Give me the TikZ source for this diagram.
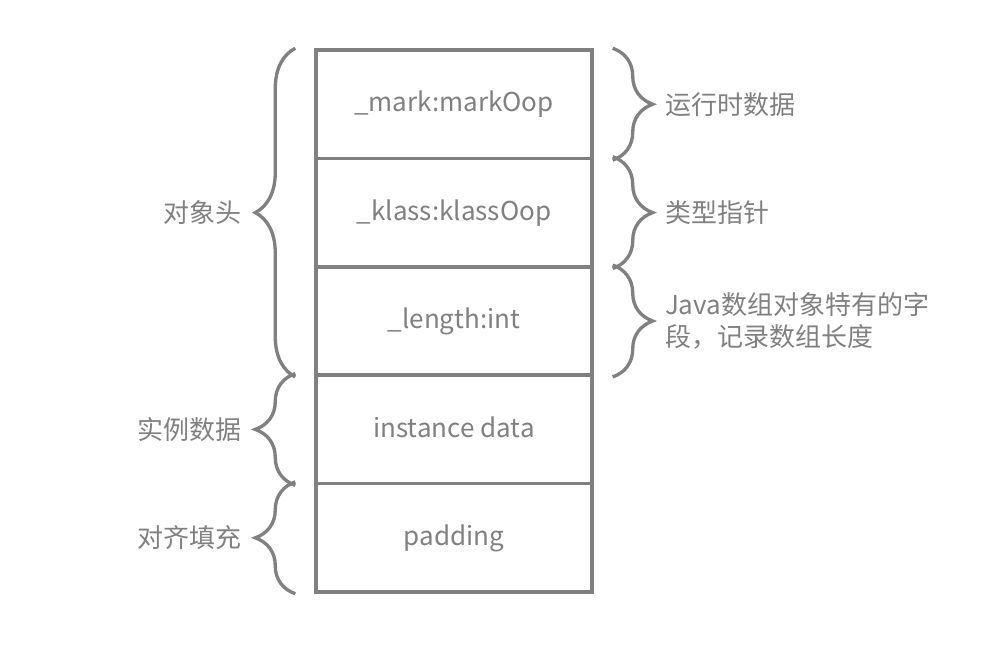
\documentclass[tikz,border=0pt]{standalone}
\usepackage{fontspec}
\setmainfont{Noto Sans CJK SC}
\usetikzlibrary{decorations.pathreplacing}
\definecolor{gray@M}{RGB}{128, 128, 128}

\begin{document}
\begin{tikzpicture}[x=0.75pt, y=-0.75pt, font=\fontsize{19.5pt}{23.5pt}\selectfont]
  \tikzstyle{cell}=[draw=gray@M, line width=2.6pt, rectangle, text=gray@M,
                    minimum width=207pt, minimum height=81.3pt, inner sep=0pt]
  \tikzstyle{brace_edge} = [draw=gray@M, line width=2.5pt, decorate,
                    decoration={brace, amplitude=30pt}]
  \tikzstyle{side_text}=[text=gray@M, inner sep=0pt]

  \useasboundingbox (0,0) rectangle (1004,644);

  % constants
  \def \CellX {454}
  \def \CellY {104.2}
  \def \CellH {108.4}
  \def \GapX {14.25pt}

    % Draw the cells
    \foreach \name/\row/\txt in
        {
          mark/0/{\_mark:markOop},
          klass/1/{\_klass:klassOop},
          length/2/{\_length:int},
          inst/3/{instance data},
          pad/4/{padding}%
        }
        \node[cell, text depth=4pt] (\name) at (\CellX, \CellY+\row*\CellH) {\txt};

    % Left braces
    \path[brace_edge] ([xshift=-\GapX]length.south west) -- ([xshift=-\GapX]mark.north west);
    \path[brace_edge] ([xshift=-\GapX]inst.south west) -- ([xshift=-\GapX]inst.north west);
    \path[brace_edge] ([xshift=-\GapX]pad.south west) -- ([xshift=-\GapX]pad.north west);

    % Right braces
    \foreach \name in {mark, klass, length}
      \path[brace_edge] ([xshift=\GapX]\name.north east) -- ([xshift=\GapX]\name.south east);

    % Side texts
    \node[side_text, anchor=east] (hdr) at ([xshift=-54.75pt]klass.west) {对象头};
    \node[side_text, anchor=east] (instlbl) at ([xshift=-54.75pt]inst.west) {实例数据};
    \node[side_text, anchor=east] (padlbl) at ([xshift=-54.75pt]pad.west) {对齐填充};
    \node[side_text, anchor=west] (marklbl) at ([xshift=53.25pt]mark.east) {运行时数据};
    \node[side_text, anchor=west] (klasslbl) at ([xshift=53.25pt]klass.east) {类型指针};
    \node[side_text, anchor=west, align=left] (lenlbl) at ([xshift=53.25pt]length.east)
        {Java数组对象特有的字\\段，记录数组长度};

\end{tikzpicture}
\end{document}
